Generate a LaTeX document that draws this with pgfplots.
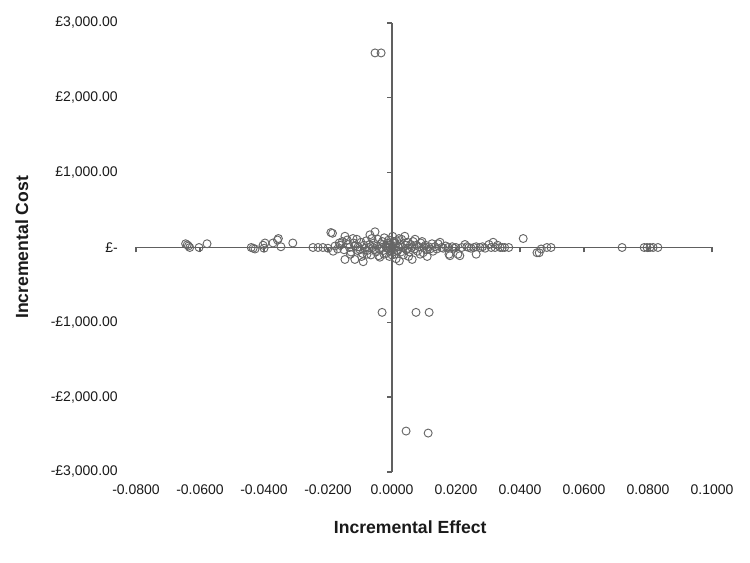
\documentclass[border=0pt]{standalone}
\usepackage{pgfplots}
\pgfplotsset{compat=1.18}
\usepackage{pgfplotstable}
\usepackage{fontspec}
\setmainfont{Liberation Sans}
\definecolor{axisgray}{HTML}{606060}
\definecolor{markgray}{HTML}{666666}
\definecolor{txt}{HTML}{1A1A1A}

\pgfplotstableread{
x y
-0.0645 50
-0.0640 35
-0.0636 20
-0.0632 0
-0.0603 0
-0.0578 50
-0.0440 0
-0.0434 -10
-0.0428 -20
-0.0403 30
-0.0400 -10
-0.0397 60
-0.0372 60
-0.0358 100
-0.0355 120
-0.0347 10
-0.0310 60
-0.0247 0
-0.0231 0
-0.0216 0
-0.0200 -10
-0.0191 200
-0.0186 190
-0.0184 -50
-0.0178 20
-0.0170 -20
-0.0165 60
-0.0162 30
-0.0155 80
-0.0150 -30
-0.0147 -160
-0.0147 150
-0.0140 100
-0.0138 40
-0.0133 0
-0.0130 -90
-0.0128 -60
-0.0122 120
-0.0120 60
-0.0116 -160
-0.0115 20
-0.0110 110
-0.0108 -40
-0.0106 10
-0.0100 -30
-0.0097 70
-0.0095 -120
-0.0092 -80
-0.0090 -190
-0.0088 30
-0.0085 -10
-0.0080 90
-0.0078 -90
-0.0077 -40
-0.0072 0
-0.0070 40
-0.0069 170
-0.0066 -100
-0.0063 120
-0.0060 0
-0.0057 60
-0.0055 -30
-0.0053 210
-0.0050 -60
-0.0047 20
-0.0044 110
-0.0042 -110
-0.0040 -20
-0.0038 -130
-0.0035 50
-0.0032 0
-0.0030 80
-0.0027 -40
-0.0025 -90
-0.0024 130
-0.0020 20
-0.0018 -80
-0.0016 -10
-0.0015 60
-0.0012 -10
-0.0010 100
-0.0008 -120
-0.0006 40
-0.0005 30
-0.0003 -50
0.0000 0
0.0000 -100
0.0002 150
0.0004 -20
0.0005 80
0.0006 60
0.0008 -90
0.0010 20
0.0013 -150
0.0014 -40
0.0015 90
0.0018 -40
0.0020 10
0.0022 120
0.0023 -180
0.0025 50
0.0028 -60
0.0030 110
0.0033 0
0.0036 -100
0.0040 150
0.0042 30
0.0045 -30
0.0048 70
0.0050 -10
0.0052 -120
0.0055 -60
0.0058 40
0.0062 0
0.0063 -160
0.0066 80
0.0070 -20
0.0072 110
0.0076 30
0.0080 -50
0.0085 10
0.0088 -90
0.0090 60
0.0094 80
0.0097 -70
0.0100 0
0.0105 30
0.0110 -120
0.0110 -30
0.0115 10
0.0119 -20
0.0125 50
0.0128 -50
0.0134 10
0.0140 -20
0.0144 50
0.0150 70
0.0155 0
0.0160 -10
0.0168 20
0.0175 0
0.0178 -90
0.0181 -110
0.0188 10
0.0194 -10
0.0200 0
0.0206 -90
0.0212 -110
0.0218 0
0.0228 40
0.0234 10
0.0240 0
0.0247 -10
0.0256 0
0.0263 10
0.0263 -90
0.0275 0
0.0283 10
0.0291 -10
0.0303 40
0.0310 0
0.0316 70
0.0322 0
0.0330 30
0.0338 0
0.0345 0
0.0352 0
0.0365 0
0.0410 120
0.0453 -70
0.0460 -70
0.0466 -20
0.0484 0
0.0497 0
0.0719 0
0.0788 0
0.0797 0
0.0806 0
0.0816 0
0.0831 0
-0.0053 2600
-0.0034 2600
-0.0031 -867
0.0075 -867
0.0116 -867
0.0044 -2453
0.0113 -2480
}\datatable

\begin{document}
\begin{tikzpicture}
\path[use as bounding box] (-102pt,-68.25pt) rectangle (460.5pt,354pt);
% axis lines through the origin
\begin{axis}[
  scale only axis, width=432pt, height=336.75pt,
  xmin=-0.08, xmax=0.1, ymin=-3000, ymax=3000,
  enlargelimits=false,
  axis lines=middle,
  axis line style={-, draw=axisgray, line width=1pt},
  xtick={-0.08,-0.06,-0.04,-0.02,0,0.02,0.04,0.06,0.08,0.1},
  ytick={-3000,-2000,-1000,0,1000,2000,3000},
  xticklabels={}, yticklabels={},
  tick style={draw=axisgray, line width=1pt},
  major tick length=3.75pt,
  tick align=outside,
  hide obscured x ticks=false, hide obscured y ticks=false,
]
\end{axis}
% labels and data
\begin{axis}[
  scale only axis, width=432pt, height=336.75pt,
  xmin=-0.08, xmax=0.1, ymin=-3000, ymax=3000,
  enlargelimits=false,
  axis lines=box, axis line style={draw=none},
  tick style={draw=none},
  xtick={-0.08,-0.06,-0.04,-0.02,0,0.02,0.04,0.06,0.08,0.1},
  xticklabels={-0.0800,-0.0600,-0.0400,-0.0200,0.0000,0.0200,0.0400,0.0600,0.0800,0.1000},
  ytick={-3000,-2000,-1000,0,1000,2000,3000},
  yticklabels={-£3{,}000.00,-£2{,}000.00,-£1{,}000.00,£-\hspace{4.5pt},£1{,}000.00,£2{,}000.00,£3{,}000.00},
  xticklabel style={font=\fontsize{10.5}{12}\selectfont, text=txt, inner sep=0pt, anchor=north, yshift=-9pt},
  yticklabel style={font=\fontsize{10.5}{12}\selectfont, text=txt, inner sep=0pt, anchor=east, xshift=-13.5pt},
  xlabel={Incremental Effect},
  ylabel={Incremental Cost},
  xlabel style={font=\fontsize{13.2}{15}\selectfont\bfseries, text=txt, at={(axis description cs:0.476,-0.1225)}, anchor=center},
  ylabel style={font=\fontsize{13.2}{15}\selectfont\bfseries, text=txt, at={(axis description cs:-0.198,0.5)}, anchor=center},
  clip=false,
]
\addplot[only marks, mark=o, mark size=3pt, mark options={draw=markgray, fill=white, line width=0.7pt}] table[x=x,y=y] {\datatable};
\end{axis}
\end{tikzpicture}
\end{document}
